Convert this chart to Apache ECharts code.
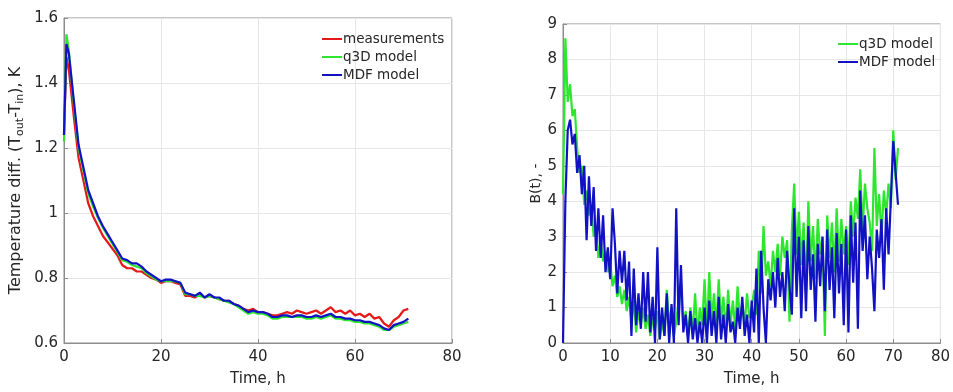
<!DOCTYPE html>
<html>
<head>
<meta charset="utf-8">
<script src="https://cdn.jsdelivr.net/npm/echarts@6/dist/echarts.min.js"></script>
<style>
  html, body { margin: 0; padding: 0; background: #fff; }
  #chart { width: 953px; height: 392px; }
</style>
</head>
<body>
<div id="chart"></div>
<script>
// left panel: outlet-inlet temperature difference, K
const tempTime = [0, 0.5, 1, 2, 3, 4, 5, 6, 7, 8, 9, 10, 11, 12, 13, 14, 15, 16, 17, 18, 19, 20,
  21, 22, 23, 24, 25, 26, 27, 28, 29, 30, 31, 32, 33, 34, 35, 36, 37, 38, 39, 40,
  41, 42, 43, 44, 45, 46, 47, 48, 49, 50, 51, 52, 53, 54, 55, 56, 57, 58, 59, 60,
  61, 62, 63, 64, 65, 66, 67, 68, 69, 70, 71];
const measured = [1.24, 1.48, 1.44, 1.30, 1.17, 1.10, 1.03, 0.99, 0.96, 0.93, 0.91, 0.89, 0.87, 0.84, 0.83, 0.83, 0.82, 0.82, 0.81, 0.80, 0.795, 0.785,
  0.79, 0.79, 0.785, 0.78, 0.745, 0.745, 0.74, 0.75, 0.74, 0.745, 0.74, 0.735, 0.73, 0.73, 0.72, 0.715, 0.705, 0.70, 0.705, 0.695,
  0.695, 0.69, 0.685, 0.685, 0.69, 0.695, 0.69, 0.70, 0.695, 0.69, 0.695, 0.70, 0.69, 0.70, 0.71, 0.695, 0.70, 0.69, 0.70, 0.685,
  0.69, 0.68, 0.69, 0.675, 0.68, 0.66, 0.65, 0.67, 0.68, 0.70, 0.705];
const q3dTemp = [1.22, 1.55, 1.50, 1.34, 1.20, 1.13, 1.06, 1.02, 0.985, 0.955, 0.93, 0.905, 0.88, 0.855, 0.85, 0.84, 0.835, 0.83, 0.815, 0.805, 0.795, 0.79,
  0.79, 0.79, 0.79, 0.785, 0.75, 0.75, 0.745, 0.745, 0.74, 0.745, 0.74, 0.735, 0.73, 0.725, 0.72, 0.71, 0.70, 0.69, 0.695, 0.69,
  0.69, 0.685, 0.675, 0.675, 0.68, 0.68, 0.68, 0.68, 0.68, 0.675, 0.675, 0.68, 0.675, 0.68, 0.685, 0.675, 0.675, 0.67, 0.67, 0.665,
  0.665, 0.66, 0.66, 0.655, 0.65, 0.64, 0.64, 0.65, 0.655, 0.66, 0.665];
const mdfTemp = [1.24, 1.52, 1.49, 1.35, 1.21, 1.14, 1.07, 1.03, 0.99, 0.96, 0.935, 0.91, 0.885, 0.86, 0.855, 0.845, 0.845, 0.835, 0.82, 0.81, 0.80, 0.79,
  0.795, 0.795, 0.79, 0.785, 0.755, 0.75, 0.745, 0.755, 0.74, 0.75, 0.74, 0.74, 0.73, 0.73, 0.72, 0.715, 0.705, 0.695, 0.70, 0.695,
  0.695, 0.69, 0.68, 0.68, 0.685, 0.685, 0.68, 0.685, 0.685, 0.68, 0.68, 0.685, 0.68, 0.685, 0.69, 0.68, 0.68, 0.675, 0.675, 0.67,
  0.67, 0.665, 0.665, 0.66, 0.655, 0.645, 0.64, 0.655, 0.66, 0.665, 0.675];

// right panel: B(t), sampled every half hour from t = 0
const bStep = 0.5;
const q3dB = [4.2, 8.6, 6.8, 7.3, 6.4, 6.6, 5.5, 4.8, 5.0, 3.9, 4.3, 3.6, 3.9, 3.0, 3.3, 2.4, 2.9, 2.3, 2.6, 2.0,
  2.3, 1.6, 1.9, 1.3, 1.6, 1.1, 1.5, 0.9, 1.3, 0.6, 1.2, 0.3, 0.9, 0.5, 1.0, 0.4, 0.8, 0.2, 0.7, 0.4,
  0.9, 0.1, 0.6, 0.2, 1.5, 0.5, 1.0, 0.2, 0.6, 1.2, 1.6, 0.4, 0.9, 0.2, 1.0, 0.3, 1.4, 0.2, 1.0, 0.5,
  1.8, 0.3, 2.0, 0.6, 1.4, 0.4, 1.8, 0.6, 1.3, 0.3, 1.5, 0.5, 1.2, 0.4, 1.6, 0.6, 1.1, 0.5, 1.4, 0.7,
  1.0, 1.5, 0.8, 2.6, 1.4, 3.3, 1.9, 2.3, 1.6, 2.6, 2.0, 2.8, 1.9, 3.0, 2.4, 2.9, 0.6, 3.2, 4.5, 2.5,
  3.7, 2.2, 3.4, 1.4, 4.0, 2.3, 3.3, 1.8, 3.5, 2.5, 3.0, 0.2, 3.6, 2.4, 3.4, 2.0, 3.8, 2.3, 3.5, 2.5,
  3.3, 2.2, 4.0, 3.0, 4.1, 3.5, 4.9, 3.2, 4.5, 3.8, 3.4, 2.6, 5.5, 3.3, 4.2, 3.0, 4.3, 3.6, 4.5, 3.8,
  6.0, 4.6, 5.5];
const mdfB = [0.0, 4.0, 6.0, 6.3, 5.6, 5.9, 4.8, 5.3, 4.2, 5.0, 2.9, 4.7, 3.3, 4.4, 2.6, 3.8, 2.4, 3.6, 2.0, 2.7,
  1.8, 3.8, 2.8, 1.4, 2.6, 1.7, 2.6, 1.2, 2.3, 0.2, 2.1, 0.5, 1.4, 0.4, 2.0, 0.6, 2.0, 0.3, 1.3, 0.0,
  2.7, 0.1, 1.0, 0.2, 1.4, 0.0, 1.1, 0.0, 3.8, 0.5, 2.2, 0.3, 0.8, 0.0, 0.9, 0.1, 0.7, 0.0, 0.6, 0.0,
  1.0, 0.0, 1.2, 0.2, 0.9, 0.0, 1.3, 0.1, 0.8, 0.0, 1.1, 0.3, 0.6, 0.0, 1.0, 0.4, 1.3, 0.2, 0.8, 0.0,
  1.2, 0.3, 2.1, 0.0, 2.6, 1.0, 0.0, 1.8, 1.2, 2.0, 1.0, 2.4, 1.3, 2.0, 0.9, 2.6, 1.6, 0.8, 3.8, 1.3,
  3.0, 0.7, 2.9, 0.9, 3.3, 1.5, 2.5, 0.6, 2.8, 1.6, 3.0, 0.9, 3.2, 1.5, 2.7, 0.7, 3.1, 1.4, 2.8, 0.5,
  3.2, 0.3, 3.6, 1.7, 3.4, 0.4, 4.3, 2.6, 3.6, 1.8, 3.0, 2.1, 0.9, 3.2, 2.4, 3.5, 1.5, 3.8, 2.5, 4.1,
  5.7, 4.8, 3.9];

const tempTicks = [0.6, 0.8, 1, 1.2, 1.4, 1.6];
const bTicks = [0, 1, 2, 3, 4, 5, 6, 7, 8, 9];

const RED = '#e41a1a';
const GREEN = '#2ee62e';
const BLUE = '#1212c4';
const TXT = '#262626';
const FONT = 'DejaVu Sans';

function pairs(xs, ys) {
  return ys.map((v, i) => [xs[i], v]);
}
function stepPairs(step, ys) {
  return ys.map((v, i) => [i * step, v]);
}

function xAxisOf(grid, interval) {
  return {
    gridIndex: grid,
    type: 'value',
    min: 0,
    max: 80,
    interval: interval,
    name: 'Time, h',
    nameLocation: 'middle',
    nameGap: 29,
    nameTextStyle: { color: TXT, fontSize: 15, fontFamily: FONT },
    axisLine: { lineStyle: { color: '#8c8c8c' } },
    axisTick: { inside: true, length: 4, lineStyle: { color: '#8c8c8c' } },
    axisLabel: { color: TXT, fontSize: 15, fontFamily: FONT, margin: 7 },
    splitLine: { show: true, lineStyle: { color: '#e6e6e6' } },
  };
}

const lineStyleOf = (c) => ({ color: c, width: 2.2 });

let option = {
  animation: false,
  backgroundColor: '#fff',
  grid: [
    { left: 64, right: 501, top: 18, bottom: 43, show: true, borderColor: '#8c8c8c', borderWidth: 1 },
    { left: 563, right: 10, top: 24, bottom: 42, show: true, borderColor: '#8c8c8c', borderWidth: 1 },
  ],
  legend: [
    {
      data: ['measurements', 'q3D model', 'MDF model'],
      orient: 'vertical',
      left: 322,
      top: 31,
      padding: 0,
      itemGap: 2,
      itemWidth: 20,
      itemHeight: 2,
      icon: 'rect',
      textStyle: { color: TXT, fontSize: 13.5, fontFamily: FONT, lineHeight: 16, padding: [0, 0, 0, -4] },
    },
    {
      data: ['q3D model ', 'MDF model '],
      orient: 'vertical',
      left: 838,
      top: 36,
      padding: 0,
      itemGap: 2,
      itemWidth: 20,
      itemHeight: 2,
      icon: 'rect',
      textStyle: { color: TXT, fontSize: 13.5, fontFamily: FONT, lineHeight: 16, padding: [0, 0, 0, -4] },
    },
  ],
  xAxis: [xAxisOf(0, 20), xAxisOf(1, 10)],
  yAxis: [
    {
      gridIndex: 0,
      type: 'value',
      min: tempTicks[0],
      max: tempTicks[tempTicks.length - 1],
      interval: 0.2,
      name: '{n|Temperature diff. (T}{s|out}{n|-T}{s|in}{n|), K}',
      nameLocation: 'middle',
      nameGap: 38,
      nameTextStyle: {
        color: TXT,
        fontFamily: FONT,
        rich: {
          n: { fontSize: 16, fontFamily: FONT, color: TXT, lineHeight: 20 },
          s: { fontSize: 11, fontFamily: FONT, color: TXT, verticalAlign: 'bottom' },
        },
      },
      axisLine: { show: true, lineStyle: { color: '#8c8c8c' } },
      axisTick: { show: true, inside: true, length: 4, lineStyle: { color: '#8c8c8c' } },
      axisLabel: { color: TXT, fontSize: 15, fontFamily: FONT, margin: 6 },
      splitLine: { show: true, lineStyle: { color: '#e6e6e6' } },
    },
    {
      gridIndex: 1,
      type: 'value',
      min: bTicks[0],
      max: bTicks[bTicks.length - 1],
      interval: 1,
      name: 'B(t), -',
      nameLocation: 'middle',
      nameGap: 20,
      nameTextStyle: { color: TXT, fontSize: 14, fontFamily: FONT },
      axisLine: { show: true, lineStyle: { color: '#8c8c8c' } },
      axisTick: { show: true, inside: true, length: 4, lineStyle: { color: '#8c8c8c' } },
      axisLabel: { color: TXT, fontSize: 15, fontFamily: FONT, margin: 6 },
      splitLine: { show: true, lineStyle: { color: '#e6e6e6' } },
    },
  ],
  series: [
    { name: 'measurements', type: 'line', xAxisIndex: 0, yAxisIndex: 0, symbol: 'none', color: RED,
      lineStyle: lineStyleOf(RED), data: pairs(tempTime, measured) },
    { name: 'q3D model', type: 'line', xAxisIndex: 0, yAxisIndex: 0, symbol: 'none', color: GREEN,
      lineStyle: lineStyleOf(GREEN), data: pairs(tempTime, q3dTemp) },
    { name: 'MDF model', type: 'line', xAxisIndex: 0, yAxisIndex: 0, symbol: 'none', color: BLUE,
      lineStyle: lineStyleOf(BLUE), data: pairs(tempTime, mdfTemp) },
    { name: 'q3D model ', type: 'line', xAxisIndex: 1, yAxisIndex: 1, symbol: 'none', color: GREEN,
      lineStyle: lineStyleOf(GREEN), data: stepPairs(bStep, q3dB) },
    { name: 'MDF model ', type: 'line', xAxisIndex: 1, yAxisIndex: 1, symbol: 'none', color: BLUE,
      lineStyle: lineStyleOf(BLUE), data: stepPairs(bStep, mdfB) },
  ],
};

var chart = echarts.init(document.getElementById('chart'), null, { renderer: 'canvas' });
chart.setOption(option);
</script>
</body>
</html>
